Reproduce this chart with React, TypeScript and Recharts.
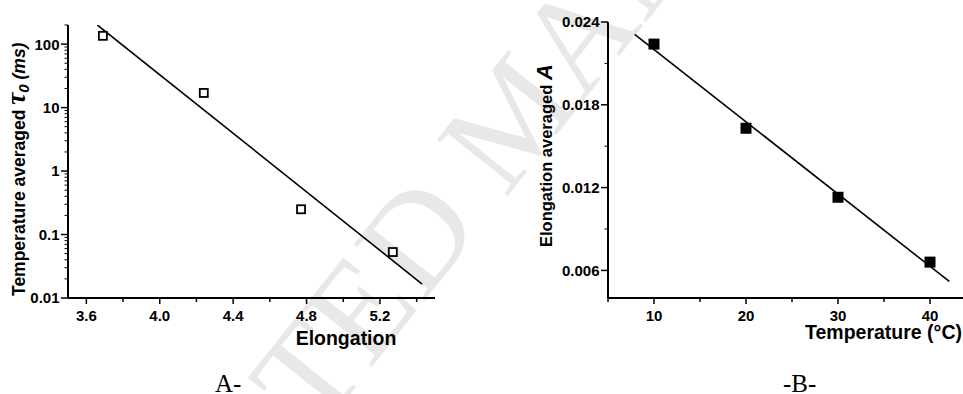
import React from 'react';
import { ScatterChart, Scatter, XAxis, YAxis } from 'recharts';

// ---- Panel A data (log scale) ----
const elongation = [3.69, 4.24, 4.77, 5.27];
const tau0 = [135, 17, 0.25, 0.053];
const fitElongation = [3.66, 5.43];
const fitTau0 = [200, 0.0166];

// ---- Panel B data ----
const temperature = [10, 20, 30, 40];
const ampA = [0.0224, 0.0163, 0.0113, 0.0066];
const fitTemperature = [7.9, 42.1];
const fitAmpA = [0.0231, 0.0052];

// ---- Ticks ----
const xTicksA = [3.6, 3.8, 4.0, 4.2, 4.4, 4.6, 4.8, 5.0, 5.2, 5.4];
const xMajorA = [3.6, 4.0, 4.4, 4.8, 5.2];
const yMajorA = [0.01, 0.1, 1, 10, 100];
const yLabelsA = ['0.01', '0.1', '1', '10', '100'];
const yMinorA = [
  0.02, 0.03, 0.04, 0.05, 0.06, 0.07, 0.08, 0.09,
  0.2, 0.3, 0.4, 0.5, 0.6, 0.7, 0.8, 0.9,
  2, 3, 4, 5, 6, 7, 8, 9,
  20, 30, 40, 50, 60, 70, 80, 90, 200,
];
const xTicksB = [5, 10, 15, 20, 25, 30, 35, 40, 45];
const xMajorB = [10, 20, 30, 40];
const yTicksB = [0.006, 0.009, 0.012, 0.015, 0.018, 0.021, 0.024];
const yMajorB = [0.006, 0.012, 0.018, 0.024];

const zip = (xs: number[], ys: number[]) => xs.map((x, i) => ({ x, y: ys[i] }));
const isIn = (v: number, arr: number[]) => arr.some((a) => Math.abs(a - v) < 1e-9);

const FONT = 'Liberation Sans, Arial, sans-serif';
const SERIF = 'Liberation Serif, Times New Roman, serif';
const TICK_FS = 15;

const fmtA = (v: number) => {
  const i = yMajorA.findIndex((a) => Math.abs(a - v) < 1e-9);
  return i >= 0 ? yLabelsA[i] : '';
};

function makeXTick(majors: number[], fmt: (v: number) => string) {
  return (props: any) => {
    const { x, y, payload } = props;
    const major = isIn(payload.value, majors);
    return (
      <g>
        <line x1={x} x2={x} y1={y} y2={y + (major ? 6 : 4)} stroke="#000" strokeWidth={1.5} />
        {major && (
          <text x={x} y={y + 23} textAnchor="middle" fontFamily={FONT} fontWeight="bold" fontSize={TICK_FS} fill="#000">
            {fmt(payload.value)}
          </text>
        )}
      </g>
    );
  };
}

function makeYTick(majors: number[], fmt: (v: number) => string) {
  return (props: any) => {
    const { x, y, payload } = props;
    const major = isIn(payload.value, majors);
    return (
      <g>
        <line x1={x} x2={x - (major ? 7 : 3.5)} y1={y} y2={y} stroke="#000" strokeWidth={major ? 1.5 : 1} />
        {major && (
          <text x={x - 8.5} y={y} dy="0.36em" textAnchor="end" fontFamily={FONT} fontWeight="bold" fontSize={TICK_FS} fill="#000">
            {fmt(payload.value)}
          </text>
        )}
      </g>
    );
  };
}

const OpenSquare = (props: any) => {
  const { cx, cy } = props;
  return <rect x={cx - 4} y={cy - 4} width={8} height={8} fill="#fff" stroke="#000" strokeWidth={1.8} />;
};
const FilledSquare = (props: any) => {
  const { cx, cy } = props;
  return <rect x={cx - 5.5} y={cy - 5.5} width={11} height={11} fill="#000" />;
};
const NoShape = () => <g />;

const axisLine = { stroke: '#000', strokeWidth: 2 };
const Y_W = 60;
const X_H = 30;

export default function App() {
  const dataA = zip(elongation, tau0);
  const fitA = zip(fitElongation, fitTau0);
  const dataB = zip(temperature, ampA);
  const fitB = zip(fitTemperature, fitAmpA);

  return (
    <div style={{ position: 'absolute', left: 0, top: 0, width: 963, height: 394, overflow: 'hidden', background: '#fff' }}>
      {/* watermark */}
      <svg width={963} height={394} style={{ position: 'absolute', left: 0, top: 0 }}>
        <text transform="translate(40,784) rotate(-51.5)" fontSize={138} fontFamily={SERIF} fill="#e8e8e8">
          ACCEPTED MANUSCRIPT
        </text>
      </svg>

      {/* Panel A */}
      <div style={{ position: 'absolute', left: 0, top: 0 }}>
        <ScatterChart width={460} height={394} margin={{ top: 25, right: 25, bottom: 96 - X_H, left: 68 - Y_W }}>
          <XAxis
            type="number"
            dataKey="x"
            domain={[3.5, 5.5]}
            ticks={xTicksA}
            allowDataOverflow
            height={X_H}
            tickSize={0}
            tickMargin={0}
            axisLine={axisLine}
            tickLine={false}
            interval={0}
            tick={makeXTick(xMajorA, (v) => v.toFixed(1))}
          />
          <YAxis
            type="number"
            dataKey="y"
            scale="log"
            domain={[0.01, 200]}
            ticks={[...yMajorA, ...yMinorA]}
            allowDataOverflow
            width={Y_W}
            tickSize={0}
            tickMargin={0}
            axisLine={axisLine}
            tickLine={false}
            interval={0}
            tick={makeYTick(yMajorA, fmtA)}
          />
          <Scatter data={fitA} shape={NoShape} line={{ stroke: '#000', strokeWidth: 1.6 }} lineType="joint" isAnimationActive={false} />
          <Scatter data={dataA} shape={OpenSquare} isAnimationActive={false} />
        </ScatterChart>
      </div>

      {/* Panel B */}
      <div style={{ position: 'absolute', left: 480, top: 0 }}>
        <ScatterChart width={520} height={394} margin={{ top: 22, right: 24, bottom: 96 - X_H, left: 128 - Y_W }}>
          <XAxis
            type="number"
            dataKey="x"
            domain={[5, 45]}
            ticks={xTicksB}
            allowDataOverflow
            height={X_H}
            tickSize={0}
            tickMargin={0}
            axisLine={axisLine}
            tickLine={false}
            interval={0}
            tick={makeXTick(xMajorB, (v) => String(v))}
          />
          <YAxis
            type="number"
            dataKey="y"
            domain={[0.004, 0.024]}
            ticks={yTicksB}
            allowDataOverflow
            width={Y_W}
            tickSize={0}
            tickMargin={0}
            axisLine={axisLine}
            tickLine={false}
            interval={0}
            tick={makeYTick(yMajorB, (v) => v.toFixed(3))}
          />
          <Scatter data={fitB} shape={NoShape} line={{ stroke: '#000', strokeWidth: 1.6 }} lineType="joint" isAnimationActive={false} />
          <Scatter data={dataB} shape={FilledSquare} isAnimationActive={false} />
        </ScatterChart>
      </div>

      {/* titles and captions */}
      <svg width={963} height={394} style={{ position: 'absolute', left: 0, top: 0, pointerEvents: 'none' }}>
        <text transform="translate(25,296) rotate(-90)" fontFamily={FONT} fontWeight="bold" fontSize={17.5} fill="#000">
          Temperature averaged{' '}
          <tspan fontFamily={SERIF} fontStyle="italic" fontSize={27}>τ</tspan>
          <tspan fontStyle="italic" fontSize={15} dy={4}>0</tspan>
          <tspan fontStyle="italic" fontSize={17.5} dy={-4}> (ms)</tspan>
        </text>
        <text x={346} y={345} textAnchor="middle" fontFamily={FONT} fontWeight="bold" fontSize={19.5} fill="#000">
          Elongation
        </text>
        <text transform="translate(552,247) rotate(-90)" fontFamily={FONT} fontWeight="bold" fontSize={16.5} fill="#000">
          Elongation averaged{' '}
          <tspan fontStyle="italic" fontSize={22}>A</tspan>
        </text>
        <text x={805} y={339} fontFamily={FONT} fontWeight="bold" fontSize={19.5} fill="#000">
          Temperature (°C)
        </text>
        <text x={215} y={392} fontFamily={SERIF} fontSize={25} fill="#000">
          A-
        </text>
        <text x={783} y={392} fontFamily={SERIF} fontSize={25} fill="#000">
          -B-
        </text>
      </svg>
    </div>
  );
}
